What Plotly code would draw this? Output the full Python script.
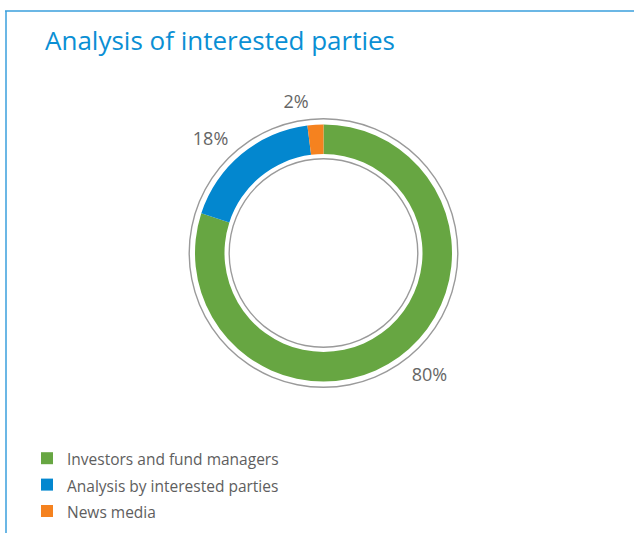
import plotly.graph_objects as go

# ---- data ----
categories = ["Investors and fund managers", "Analysis by interested parties", "News media"]
shares = [80, 18, 2]
colors = ["#67a642", "#0387cf", "#f5821f"]
title_text = "Analysis of interested parties"

W, H = 634, 533
cx, cy = 323.5, 253.0  # donut centre in pixels (from top-left)


def dom(r):
    return dict(x=[(cx - r) / W, (cx + r) / W], y=[1 - (cy + r) / H, 1 - (cy - r) / H])


legend_labels = ['<span style="font-size:15.5px">%s</span>' % c for c in categories]

fig = go.Figure()

# outer thin grey ring
fig.add_trace(go.Pie(values=[1], labels=["o"], domain=dom(135), hole=1 - 1.4 / 135,
                     marker=dict(colors=["#9a9a9a"], line=dict(width=0)), textinfo="none",
                     showlegend=False, hoverinfo="skip", sort=False))
# inner thin grey ring
fig.add_trace(go.Pie(values=[1], labels=["i"], domain=dom(95), hole=1 - 1.4 / 95,
                     marker=dict(colors=["#9a9a9a"], line=dict(width=0)), textinfo="none",
                     showlegend=False, hoverinfo="skip", sort=False))
# main donut
fig.add_trace(go.Pie(values=shares, labels=legend_labels, domain=dom(128.5), hole=99 / 128.5,
                     marker=dict(colors=colors, line=dict(width=0)), textinfo="none",
                     sort=False, direction="clockwise", rotation=0, hoverinfo="label+percent"))
# invisible pie carrying the outside percentage labels
fig.add_trace(go.Pie(values=shares, labels=legend_labels, domain=dom(140), hole=0.9,
                     marker=dict(colors=["rgba(0,0,0,0)"] * 3, line=dict(width=0)),
                     textinfo="percent", texttemplate="%{percent:.0%}", textposition="outside",
                     outsidetextfont=dict(size=18, color="#666666", family="Open Sans"),
                     sort=False, direction="clockwise", rotation=0, showlegend=False,
                     hoverinfo="skip"))

fig.update_layout(
    width=W, height=H,
    margin=dict(l=0, r=0, t=0, b=0),
    paper_bgcolor="white", plot_bgcolor="white",
    font=dict(family="Open Sans", color="#5a5a5a"),
    showlegend=True,
    legend=dict(x=27 / W, xanchor="left", y=1 - 440 / H, yanchor="top",
                font=dict(size=18, color="#5e5e5e", family="Open Sans"),
                bgcolor="rgba(0,0,0,0)", traceorder="normal"),
    annotations=[dict(text=title_text, x=43 / W, y=1 - 52 / H, xref="paper", yref="paper",
                      xanchor="left", yanchor="bottom", showarrow=False, yshift=-8,
                      font=dict(size=26, color="#0a8fd4", family="Open Sans"))],
    shapes=[
        dict(type="line", xref="paper", yref="paper", x0=5 / W, x1=1, y0=1 - 11 / H, y1=1 - 11 / H,
             line=dict(color="#3a9fdc", width=1.5)),
        dict(type="line", xref="paper", yref="paper", x0=6 / W, x1=6 / W, y0=0, y1=1 - 11 / H,
             line=dict(color="#3a9fdc", width=1.5)),
    ],
)

fig.write_html("out.html")
